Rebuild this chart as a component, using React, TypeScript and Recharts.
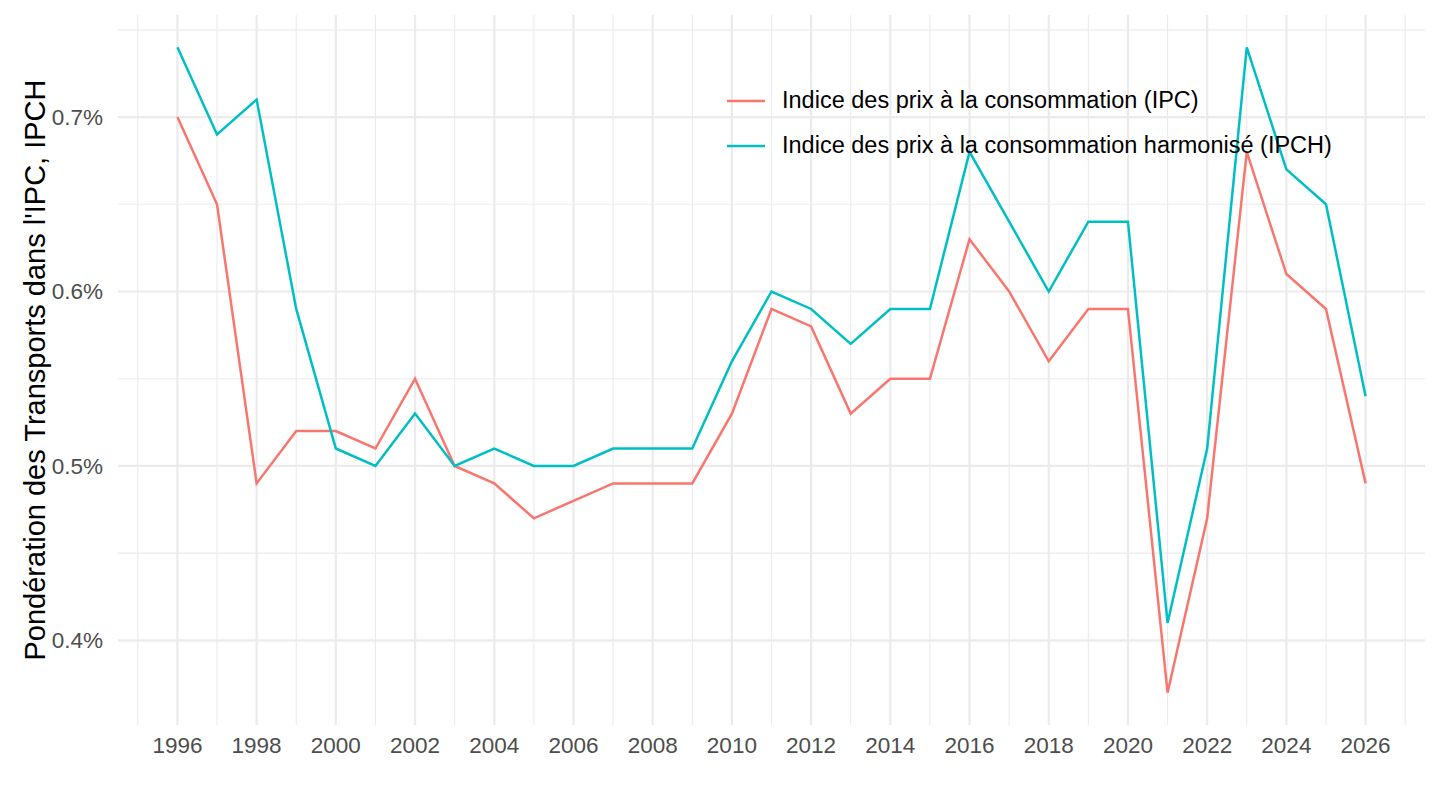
import { LineChart, Line, XAxis, YAxis, ReferenceLine, Legend, Label } from 'recharts';

const years = [
  1996, 1997, 1998, 1999, 2000, 2001, 2002, 2003, 2004, 2005, 2006, 2007, 2008, 2009, 2010, 2011,
  2012, 2013, 2014, 2015, 2016, 2017, 2018, 2019, 2020, 2021, 2022, 2023, 2024, 2025, 2026,
];
const ipc = [
  0.70, 0.65, 0.49, 0.52, 0.52, 0.51, 0.55, 0.50, 0.49, 0.47, 0.48, 0.49, 0.49, 0.49, 0.53, 0.59,
  0.58, 0.53, 0.55, 0.55, 0.63, 0.60, 0.56, 0.59, 0.59, 0.37, 0.47, 0.68, 0.61, 0.59, 0.49,
];
const ipch = [
  0.74, 0.69, 0.71, 0.59, 0.51, 0.50, 0.53, 0.50, 0.51, 0.50, 0.50, 0.51, 0.51, 0.51, 0.56, 0.60,
  0.59, 0.57, 0.59, 0.59, 0.68, 0.64, 0.60, 0.64, 0.64, 0.41, 0.51, 0.74, 0.67, 0.65, 0.54,
];

const xMajorTicks = [1996, 1998, 2000, 2002, 2004, 2006, 2008, 2010, 2012, 2014, 2016, 2018, 2020, 2022, 2024, 2026];
const xMinorTicks = [1995, 1997, 1999, 2001, 2003, 2005, 2007, 2009, 2011, 2013, 2015, 2017, 2019, 2021, 2023, 2025, 2027];
const yMajorTicks = [0.4, 0.5, 0.6, 0.7];
const yMinorTicks = [0.45, 0.55, 0.65, 0.75];

const seriesNames = {
  ipc: 'Indice des prix à la consommation (IPC)',
  ipch: 'Indice des prix à la consommation harmonisé (IPCH)',
};

const data = years.map((year, i) => ({ year, ipc: ipc[i], ipch: ipch[i] }));

const FONT = '"Liberation Sans", Arial, Helvetica, sans-serif';
const GRID = '#EBEBEB';

const LegendBox = ({ payload }: any) => (
  <div style={{ fontFamily: FONT, fontSize: 23.5, color: '#000' }}>
    {(payload || []).map((p: any) => (
      <div key={p.value} style={{ display: 'flex', alignItems: 'center', height: 45, whiteSpace: 'nowrap' }}>
        <svg width={56} height={10}>
          <line x1={1} x2={39} y1={5} y2={5} stroke={p.color} strokeWidth={2.5} />
        </svg>
        <span>{p.value}</span>
      </div>
    ))}
  </div>
);

export default function App() {
  const xTicks = [...xMinorTicks, ...xMajorTicks].sort((a, b) => a - b);
  const yTicks = [...yMajorTicks, ...yMinorTicks].sort((a, b) => a - b);
  return (
    <div style={{ position: 'absolute', left: 0, top: 0, background: '#fff' }}>
      <LineChart width={1440} height={810} data={data} margin={{ top: 15, right: 15, left: 0, bottom: 0 }}>
        {xMinorTicks.map((v) => (
          <ReferenceLine key={'xm' + v} x={v} stroke={GRID} strokeWidth={1.1} />
        ))}
        {yMinorTicks.map((v) => (
          <ReferenceLine key={'ym' + v} y={v} stroke={GRID} strokeWidth={1.1} />
        ))}
        {xMajorTicks.map((v) => (
          <ReferenceLine key={'x' + v} x={v} stroke={GRID} strokeWidth={2.2} />
        ))}
        {yMajorTicks.map((v) => (
          <ReferenceLine key={'y' + v} y={v} stroke={GRID} strokeWidth={2.2} />
        ))}
        <XAxis
          dataKey="year"
          type="number"
          domain={[1994.5, 2027.5]}
          ticks={xTicks}
          interval={0}
          tickFormatter={(v: number) => (xMajorTicks.includes(v) ? String(v) : '')}
          axisLine={false}
          tickLine={false}
          tickSize={0}
          tickMargin={12}
          height={85}
          tick={{ fill: '#4D4D4D', fontSize: 22.5, fontFamily: FONT }}
        />
        <YAxis
          type="number"
          domain={[0.3515, 0.7585]}
          ticks={yTicks}
          interval={0}
          tickFormatter={(v: number) => (yMajorTicks.includes(v) ? v.toFixed(1) + '%' : '')}
          axisLine={false}
          tickLine={false}
          tickSize={0}
          tickMargin={15}
          width={118}
          tick={{ fill: '#4D4D4D', fontSize: 22.5, fontFamily: FONT }}
        >
          <Label
            value="Pondération des Transports dans l'IPC, IPCH"
            angle={-90}
            position="center"
            dx={-24}
            style={{ fill: '#000', fontSize: 29, fontFamily: FONT, textAnchor: 'middle' }}
          />
        </YAxis>
        <Legend
          layout="vertical"
          verticalAlign="middle"
          align="center"
          content={<LegendBox />}
          wrapperStyle={{ left: 726, top: 78, width: 'auto' }}
        />
        <Line
          type="linear"
          dataKey="ipc"
          name={seriesNames.ipc}
          stroke="#F8766D"
          strokeWidth={2.5}
          dot={false}
          activeDot={false}
          isAnimationActive={false}
        />
        <Line
          type="linear"
          dataKey="ipch"
          name={seriesNames.ipch}
          stroke="#00BFC4"
          strokeWidth={2.5}
          dot={false}
          activeDot={false}
          isAnimationActive={false}
        />
      </LineChart>
    </div>
  );
}
